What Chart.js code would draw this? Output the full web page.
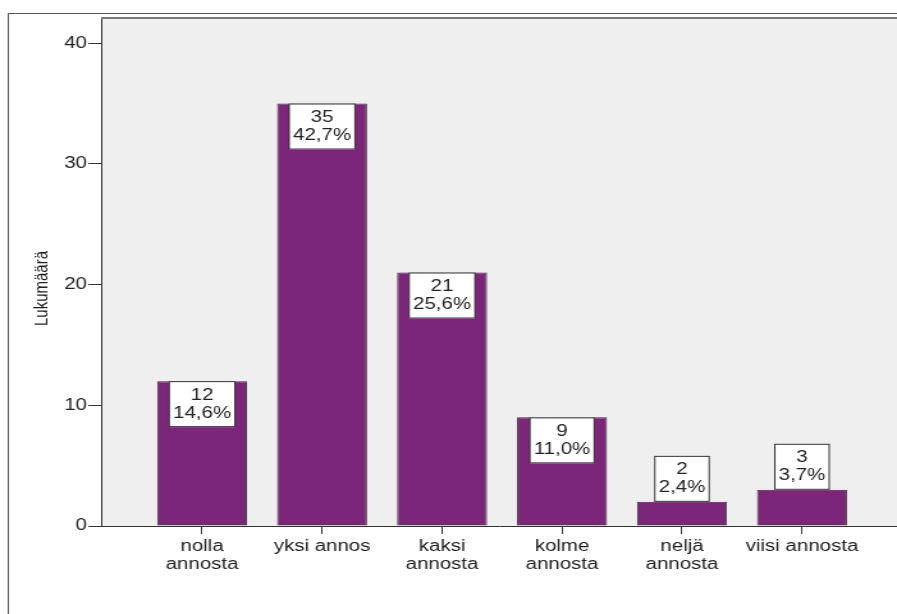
<!DOCTYPE html>
<html>
<head>
<meta charset="utf-8">
<script src="https://cdn.jsdelivr.net/npm/chart.js@4/dist/chart.umd.min.js"></script>
<style>
  html, body { margin:0; padding:0; background:#fff; overflow:hidden; width:897px; height:614px; }
  #wrap { position:absolute; left:0; top:0; width:701px; height:614px; transform:scaleX(1.27960); transform-origin:0 0; }
  #c { display:block; width:701px; height:614px; }
</style>
</head>
<body>
<div id="wrap"><canvas id="c" width="701" height="614"></canvas></div>
<script>
const categories = ['nolla annosta','yksi annos','kaksi annosta','kolme annosta','neljä annosta','viisi annosta'];
const tickLines = [['nolla','annosta'],['yksi annos'],['kaksi','annosta'],['kolme','annosta'],['neljä','annosta'],['viisi annosta']];
const counts = [12,35,21,9,2,3];
const percents = ['14,6%','42,7%','25,6%','11,0%','2,4%','3,7%'];
const yTicks = [0,10,20,30,40];
const yTitle = 'Lukumäärä';

const FONT = "'Liberation Sans', Arial, sans-serif";

const framePlugin = {
  id: 'frame',
  beforeDraw(chart) {
    const ctx = chart.ctx, a = chart.chartArea;
    ctx.save();
    ctx.fillStyle = '#ffffff';
    ctx.fillRect(0, 0, chart.width, chart.height);
    ctx.strokeStyle = '#555';
    ctx.lineWidth = 1;
    ctx.strokeRect(6.5, 13.5, chart.width + 20, chart.height + 20);
    ctx.fillStyle = '#efefef';
    ctx.fillRect(a.left, a.top, a.right - a.left + 20, a.bottom - a.top);
    ctx.strokeStyle = '#777';
    ctx.lineWidth = 2;
    ctx.beginPath();
    ctx.moveTo(a.left, a.top - 1);
    ctx.lineTo(a.right + 20, a.top - 1);
    ctx.stroke();
    // y axis title
    ctx.save();
    ctx.translate(33, (a.top + a.bottom) / 2 + 16);
    ctx.rotate(-Math.PI / 2);
    ctx.fillStyle = '#222';
    ctx.font = '15px ' + FONT;
    ctx.textAlign = 'center';
    ctx.textBaseline = 'middle';
    ctx.fillText(yTitle, 0, 0);
    ctx.restore();
    ctx.restore();
  }
};

const labelPlugin = {
  id: 'boxlabels',
  afterDatasetsDraw(chart) {
    const ctx = chart.ctx;
    const meta = chart.getDatasetMeta(0);
    ctx.save();
    ctx.font = '16px ' + FONT;
    meta.data.forEach((bar, i) => {
      const l1 = String(counts[i]), l2 = percents[i];
      const tw = Math.max(ctx.measureText(l1).width, ctx.measureText(l2).width);
      const w = tw + 6, h = 46;
      const barH = bar.base - bar.y;
      const top = barH > h ? bar.y : bar.y - h;
      const left = bar.x - w / 2;
      ctx.fillStyle = '#fff';
      ctx.fillRect(left, top, w, h);
      ctx.strokeStyle = '#333';
      ctx.lineWidth = 1;
      ctx.strokeRect(left, top + 0.5, w, h - 1);
      ctx.fillStyle = '#222';
      ctx.textAlign = 'center';
      ctx.textBaseline = 'middle';
      ctx.fillText(l1, bar.x, top + 14);
      ctx.fillText(l2, bar.x, top + 32);
    });
    ctx.restore();
  }
};

new Chart(document.getElementById('c'), {
  type: 'bar',
  data: {
    datasets: [{
      data: counts.map((v, i) => ({ x: i, y: v })),
      backgroundColor: '#7b2678',
      borderColor: '#333',
      borderWidth: 1,
      categoryPercentage: 1,
      barPercentage: 0.75
    }]
  },
  options: {
    responsive: false,
    maintainAspectRatio: false,
    animation: false,
    devicePixelRatio: 1,
    layout: { padding: { left: 0, top: 19, right: 0, bottom: 0 } },
    plugins: { legend: { display: false }, tooltip: { enabled: false } },
    scales: {
      x: {
        type: 'linear',
        offset: false,
        min: -0.8417,
        max: 5.7917,
        afterBuildTicks(scale) { scale.ticks = categories.map((c, i) => ({ value: i })); },
        afterFit(scale) { scale.height = 88; },
        grid: { display: true, offset: false, drawOnChartArea: false, drawTicks: true, tickLength: 8, color: '#333' },
        border: { display: true, color: '#333', width: 1 },
        ticks: {
          autoSkip: false, maxRotation: 0, minRotation: 0, padding: 4,
          color: '#222',
          font: { family: FONT, size: 16, lineHeight: 1.12 },
          callback: (v) => tickLines[v]
        }
      },
      y: {
        min: 0,
        max: 42,
        afterBuildTicks(scale) { scale.ticks = yTicks.map(v => ({ value: v })); },
        afterFit(scale) { scale.width = 79; },
        grid: { display: true, drawOnChartArea: false, drawTicks: true, tickLength: 10, color: '#333' },
        border: { display: true, color: '#333', width: 1 },
        ticks: { color: '#222', padding: 1, font: { family: FONT, size: 16 } },
        title: { display: false }
      }
    }
  },
  plugins: [framePlugin, labelPlugin]
});
</script>
</body>
</html>
